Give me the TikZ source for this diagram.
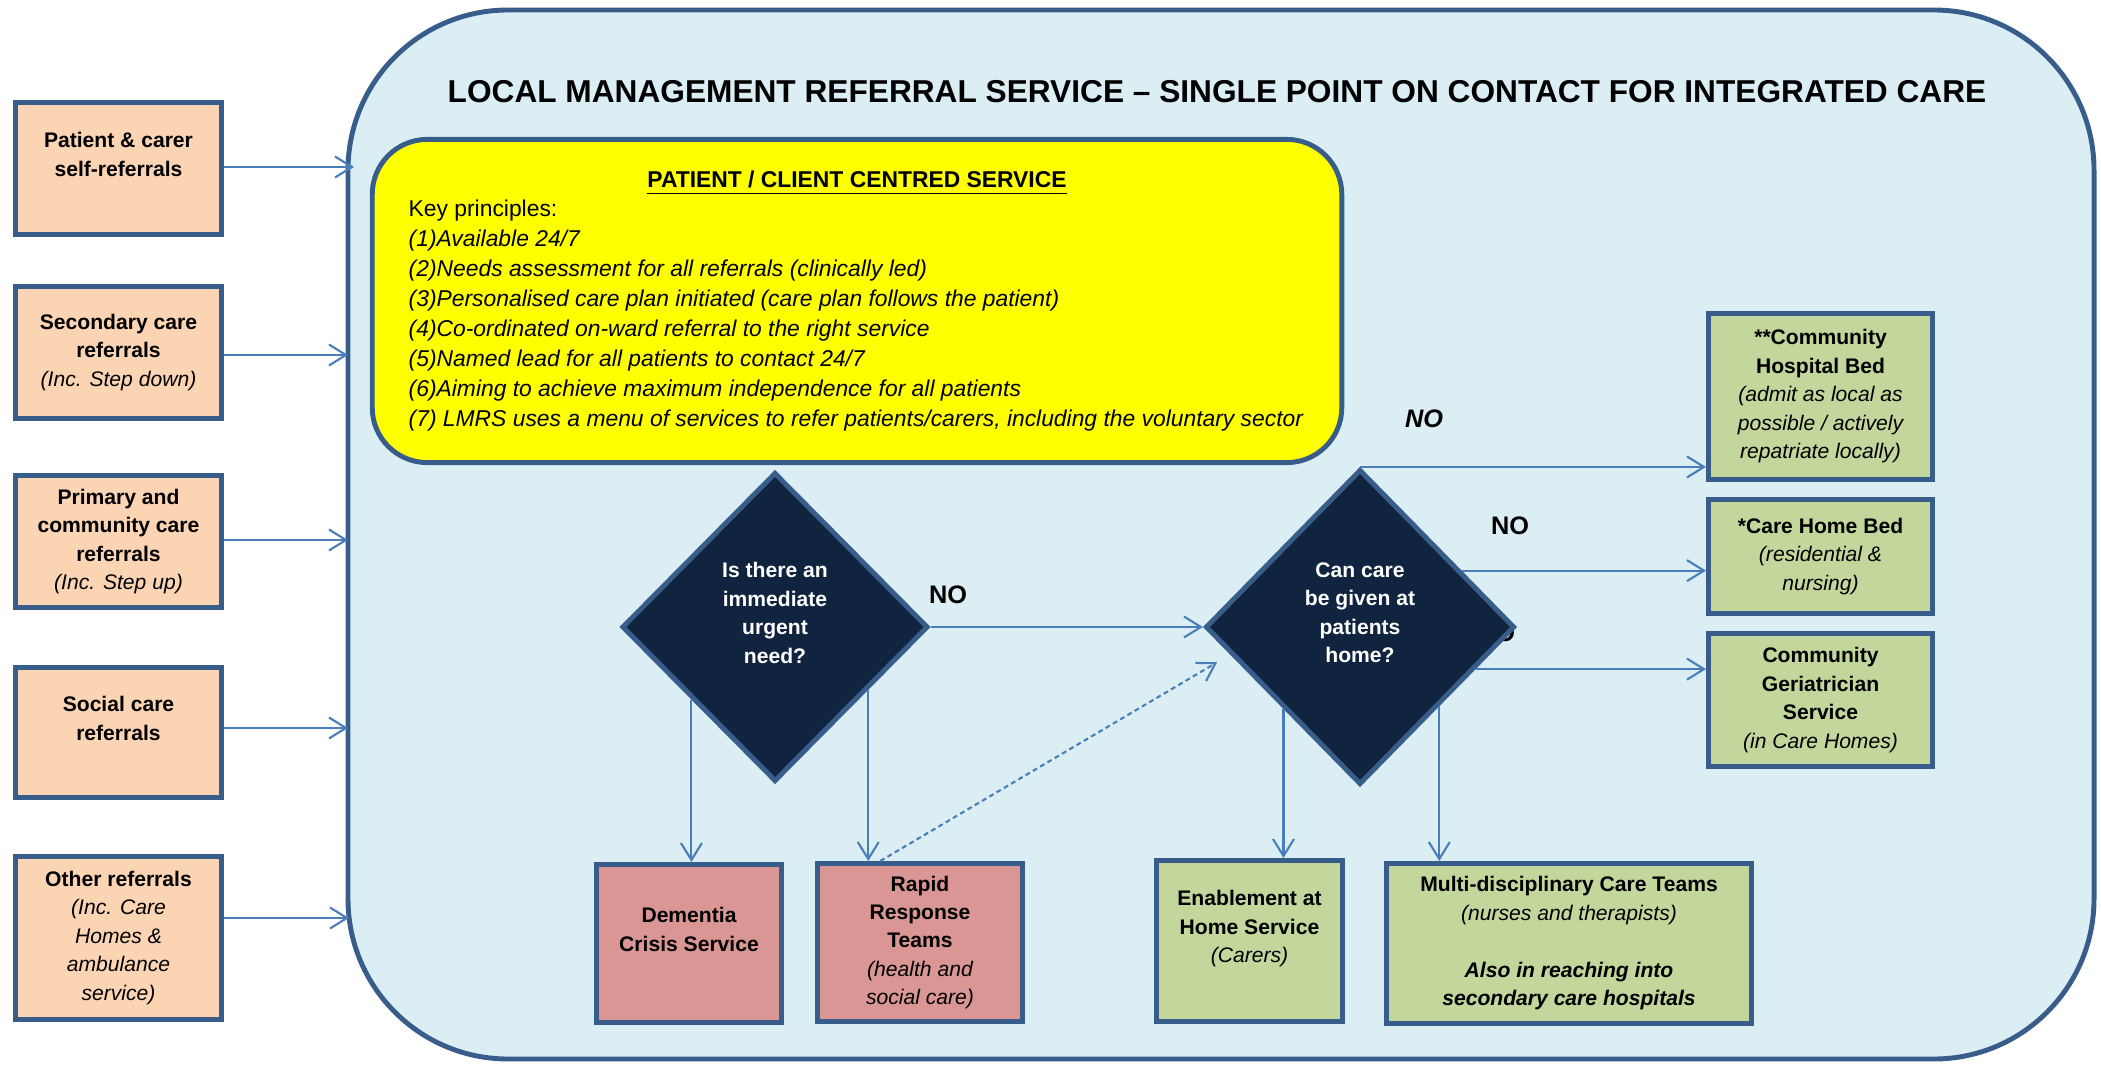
\documentclass[tikz,border=0pt]{standalone}
\usepackage{fontspec}
\setmainfont{Liberation Sans}
\usetikzlibrary{
  shapes.geometric, % For the decision diamonds
  arrows.meta % For arrow tips
}

\definecolor{frameblue}{HTML}{385D8A}
\definecolor{arrowblue}{HTML}{4A7EBB}
\definecolor{paleblue}{HTML}{DBEEF4}
\definecolor{peach}{HTML}{FBD4B4}
\definecolor{rose}{HTML}{D99694}
\definecolor{olive}{HTML}{C3D69B}
\definecolor{navy}{HTML}{11243F}
\definecolor{keyyellow}{HTML}{FFFF00}

% italic remark line inside a bold box
\newcommand{\smallnote}[1]{{\normalfont\itshape #1}}

\begin{document}
\begin{tikzpicture}[
    x=0.01cm, y=-0.01cm, % grid in 0.1mm steps, y runs downwards
    >={Straight Barb[length=1.7mm, width=2.1mm]}, % Default arrow tip
    body/.style={font=\fontsize{6}{8.1}\selectfont\bfseries, align=center},
    box/.style={body, draw=frameblue, line width=1.4pt, inner sep=2pt},
    refbox/.style={box, fill=peach, minimum width=2.06cm, minimum height=1.32cm},
    urgentbox/.style={box, fill=rose, minimum height=1.58cm},
    carebox/.style={box, fill=olive, minimum width=2.24cm},
    decision/.style={diamond, aspect=1, draw=frameblue, line width=1.4pt,
      fill=navy, body, text=white, inner sep=0pt},
    flow/.style={arrowblue, line width=0.6pt, ->}, % Style for connectors
    nolabel/.style={font=\fontsize{7.2}{8}\selectfont\bfseries},
  ]

  \useasboundingbox (0,0) rectangle (2101,1064);

  % Service frame
  \draw[frameblue, line width=1.4pt, fill=paleblue, rounded corners=1.6cm]
    (348,10) rectangle (2094,1059);
  \node[font=\fontsize{9}{11}\selectfont\bfseries] (title) at (1217,92)
    {LOCAL MANAGEMENT REFERRAL SERVICE – SINGLE POINT ON CONTACT FOR INTEGRATED CARE};

  % Referral sources
  \node[refbox] (selfref) at (118.5,168.5) {Patient \& carer\\self-referrals\\~};
  \node[refbox] (secref) at (118.5,352.5)
    {Secondary care\\referrals\\\smallnote{(Inc. Step down)}};
  \node[refbox] (primref) at (118.5,541.5)
    {Primary and\\community care\\referrals\\\smallnote{(Inc. Step up)}};
  \node[refbox, minimum height=1.30cm] (socref) at (118.5,732.5)
    {Social care\\referrals\\~};
  \node[refbox, minimum height=1.63cm] (otherref) at (118.5,938)
    {Other referrals\\\smallnote{(Inc. Care}\\\smallnote{Homes \&}\\
     \smallnote{ambulance}\\\smallnote{service)}};

  % Ends of the incoming arrows on the frame
  \coordinate (in1) at (354,167);
  \coordinate (in2) at (348,355);
  \coordinate (in3) at (348,540);
  \coordinate (in4) at (348,728);
  \coordinate (in5) at (349,918);

  \foreach \src/\dst in {selfref/in1, secref/in2, primref/in3, socref/in4, otherref/in5}
  \draw[flow] (\src.east |- \dst) -- (\dst);

  % Key principles
  \node[draw=frameblue, line width=1.4pt, fill=keyyellow, rounded corners=0.55cm,
    minimum width=9.69cm, minimum height=3.23cm] (principles) at (857,301) {};
  \node[font=\fontsize{6.5}{8.5}\selectfont\bfseries, anchor=base] (principles-head)
    at (857,188) {\underline{PATIENT / CLIENT CENTRED SERVICE}};
  % base of a multi-line node = baseline of its last line
  \node[font=\fontsize{6.5}{8.5}\selectfont, align=left, anchor=base west, inner sep=0pt]
    (principles-list) at (408,426)
    {Key principles:\\
     \textit{(1)Available 24/7}\\
     \textit{(2)Needs assessment for all referrals (clinically led)}\\
     \textit{(3)Personalised care plan initiated (care plan follows the patient)}\\
     \textit{(4)Co-ordinated on-ward referral to the right service}\\
     \textit{(5)Named lead for all patients to contact 24/7}\\
     \textit{(6)Aiming to achieve maximum independence for all patients}\\
     \textit{(7) LMRS uses a menu of services to refer patients/carers, including the voluntary sector}};

  % Decisions
  \node[nolabel] (no-hidden) at (1496,633) {NO};
  \node[decision, minimum width=3.06cm, minimum height=3.09cm] (urgent) at (775,627)
    {Is there an\\immediate\\urgent\\need?\\~};
  \node[decision, minimum width=3.09cm, minimum height=3.15cm] (home) at (1360,627)
    {Can care\\be given at\\patients\\home?\\~};

  % Urgent services
  \node[urgentbox, minimum width=1.85cm] (dementia) at (689,943.5)
    {Dementia\\Crisis Service\\~};
  \node[urgentbox, minimum width=2.05cm] (rapid) at (920,942.5)
    {Rapid\\Response\\Teams\\\smallnote{(health and}\\\smallnote{social care)}};

  % Care at home
  \node[carebox, minimum width=1.86cm, minimum height=1.61cm] (enable) at (1249.5,941)
    {Enablement at\\Home Service\\\smallnote{(Carers)}\\~};
  \node[carebox, minimum width=3.65cm, minimum height=1.60cm] (multi) at (1569,943.5)
    {Multi-disciplinary Care Teams\\\smallnote{(nurses and therapists)}\\~\\
     {\itshape Also in reaching into}\\{\itshape secondary care hospitals}};

  % Beds and specialist care
  \node[carebox, minimum height=1.66cm] (chb) at (1820.5,396.5)
    {**Community\\Hospital Bed\\\smallnote{(admit as local as}\\
     \smallnote{possible / actively}\\\smallnote{repatriate locally)}};
  \node[carebox, minimum height=1.14cm] (chbed) at (1820.5,556.5)
    {*Care Home Bed\\\smallnote{(residential \&}\\\smallnote{nursing)}};
  \node[carebox, minimum height=1.33cm] (geri) at (1820.5,700)
    {Community\\Geriatrician\\Service\\\smallnote{(in Care Homes)}};

  % Connectors
  \draw[flow] (urgent.east) -- (home.west);
  \draw[flow] (urgent.-139) -- (urgent.-139 |- dementia.north);
  \draw[flow] (urgent.-34) -- (urgent.-34 |- rapid.north);
  \draw[flow, dash pattern=on 1.4pt off 1pt, shorten >=1.5mm] (rapid.116) -- (home.-168);
  \draw[flow] (home.north) -- (home.north -| chb.west);
  \draw[flow] (home.29) -- (home.29 -| chbed.west);
  \draw[flow] (home.-20) -- (home.-20 -| geri.west);
  \draw[flow] (home.-133) -- (home.-133 |- enable.north);
  \draw[flow] (home.-45) -- (home.-45 |- multi.north);

  % Answers
  \node[nolabel] (no-urgent) at (948,595) {NO};
  \node[nolabel] (no-bed) at (1424,419) {\itshape NO};
  \node[nolabel] (no-home) at (1510,526) {NO};

\end{tikzpicture}
\end{document}
